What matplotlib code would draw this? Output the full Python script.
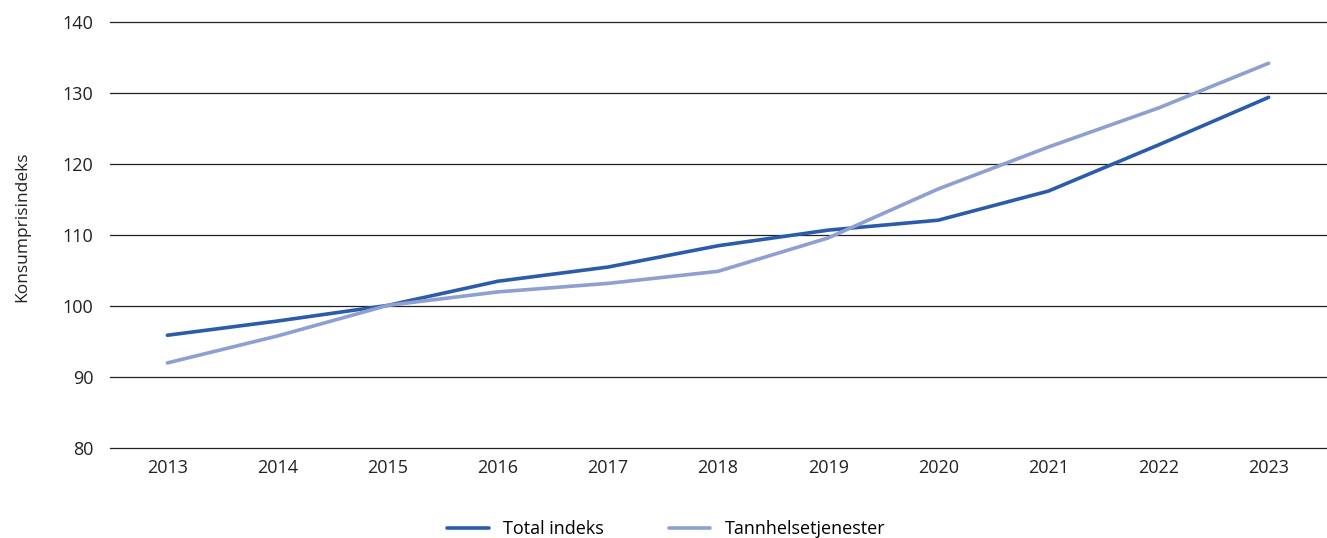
import matplotlib
matplotlib.use('Agg')
import matplotlib.pyplot as plt

plt.rcParams['font.family'] = ['Open Sans', 'DejaVu Sans']

# Konsumprisindeks, 2015 = 100
years = ['2013', '2014', '2015', '2016', '2017', '2018', '2019', '2020', '2021', '2022', '2023']
total = [95.9, 97.9, 100.1, 103.5, 105.5, 108.5, 110.7, 112.1, 116.2, 122.7, 129.4]
tannhelse = [92.0, 95.8, 100.1, 102.0, 103.2, 104.9, 109.6, 116.5, 122.4, 127.9, 134.2]

fig = plt.figure(figsize=(13.27, 5.38), dpi=100)
ax = fig.add_axes([0.083, 0.167, 0.917, 0.792])

x = range(len(years))
ax.plot(x, total, color='#2a5caa', lw=2.6, solid_capstyle='round', solid_joinstyle='round', label='Total indeks', zorder=3)
ax.plot(x, tannhelse, color='#8e9fd2', lw=2.6, solid_capstyle='round', solid_joinstyle='round', label='Tannhelsetjenester', zorder=3)

ax.set_xlim(-0.52, len(years) - 0.47)
ax.set_ylim(80, 140)
ax.set_yticks(range(80, 141, 10))
ax.set_xticks(list(x))
ax.set_xticklabels(years)
ax.yaxis.grid(True, color='#222222', lw=0.9)
for gl in ax.get_ygridlines():
    gl.set_clip_on(False)
ax.set_axisbelow(True)
for s in ax.spines.values():
    s.set_visible(False)
ax.tick_params(length=0, labelsize=13, colors='#222222', pad=8)
ax.tick_params(axis='y', pad=12)
ax.set_ylabel('Konsumprisindeks', fontsize=12.5, color='#222222')
ax.yaxis.set_label_coords(-0.066, 0.52)

fig.legend(loc='center', bbox_to_anchor=(0.502, 0.016), ncol=2, frameon=False,
           fontsize=13, handlelength=2.3, columnspacing=3.6, handletextpad=0.8)

fig.savefig('out.png', dpi=100)
